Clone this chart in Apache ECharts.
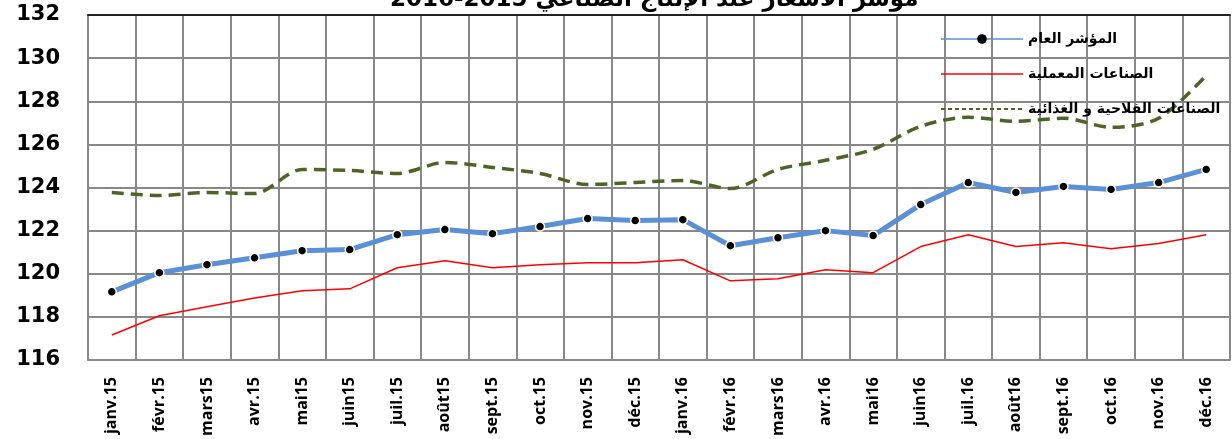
<!DOCTYPE html>
<html>
<head>
<meta charset="utf-8">
<script src="https://cdn.jsdelivr.net/npm/echarts@6/dist/echarts.min.js"></script>
<style>
  html, body { margin: 0; padding: 0; background: #fff; }
  #chart { width: 1232px; height: 439px; }
</style>
</head>
<body>
<div id="chart"></div>
<script>
const months = ['janv.15', 'févr.15', 'mars15', 'avr.15', 'mai15', 'juin15', 'juil.15', 'août15',
  'sept.15', 'oct.15', 'nov.15', 'déc.15', 'janv.16', 'févr.16', 'mars16', 'avr.16', 'mai16',
  'juin16', 'juil.16', 'août16', 'sept.16', 'oct.16', 'nov.16', 'déc.16']

// المؤشر العام
const general = [119.16, 120.05, 120.42, 120.74, 121.07, 121.12, 121.81, 122.05, 121.86, 122.19,
  122.56, 122.47, 122.51, 121.30, 121.67, 122.0, 121.77, 123.21, 124.23, 123.77, 124.05, 123.91,
  124.23, 124.84]
// الصناعات المعملية
const manufacturing = [117.16, 118.05, 118.47, 118.88, 119.21, 119.30, 120.28, 120.60, 120.28,
  120.42, 120.51, 120.51, 120.65, 119.67, 119.77, 120.19, 120.05, 121.26, 121.81, 121.26, 121.44,
  121.16, 121.40, 121.81]
// الصناعات الفلاحية و الغذائية
const agrifood = [123.77, 123.63, 123.77, 123.72, 124.84, 124.79, 124.65, 125.16, 124.93, 124.65,
  124.14, 124.23, 124.33, 123.95, 124.84, 125.26, 125.77, 126.84, 127.26, 127.07, 127.21, 126.79,
  127.21, 129.2]

const names = ['المؤشر العام', 'الصناعات المعملية', 'الصناعات الفلاحية و الغذائية']
const title = '2016-2015 مؤشر الأسعار عند الإنتاج الصناعي'

const arabicFont = 'DejaVu Sans'
const chart = echarts.init(document.getElementById('chart'))

chart.setOption({
  animation: false,
  title: {
    text: title,
    left: 385,
    top: -16,
    textStyle: { fontFamily: arabicFont, fontSize: 23, fontWeight: 'bold', color: '#000' }
  },
  legend: {
    orient: 'vertical',
    left: 935,
    top: 27,
    itemWidth: 82,
    itemHeight: 12,
    itemGap: 21,
    textStyle: { fontFamily: arabicFont, fontSize: 14, fontWeight: 'bold', color: '#000' },
    data: [
      { name: names[0], itemStyle: { color: '#000', borderWidth: 0 }, lineStyle: { width: 1.5 } },
      { name: names[1], itemStyle: { opacity: 0 }, lineStyle: { width: 1.5 } },
      { name: names[2], itemStyle: { opacity: 0 }, lineStyle: { width: 2, type: [4, 3] } }
    ]
  },
  grid: { left: 88, right: 2, top: 15, bottom: 79 },
  xAxis: [{
    type: 'category',
    data: months,
    boundaryGap: true,
    axisLine: { lineStyle: { color: '#888', width: 2 } },
    axisTick: { show: false },
    splitLine: { show: true, lineStyle: { color: '#888', width: 2 } },
    axisLabel: {
      rotate: 90,
      interval: 0,
      margin: 17,
      fontFamily: 'Open Sans',
      fontSize: 16,
      fontWeight: 'bold',
      color: '#000'
    }
  }, {
    type: 'category',
    data: months,
    position: 'top',
    axisLine: { lineStyle: { color: '#222', width: 2 } },
    axisTick: { show: false },
    axisLabel: { show: false }
  }],
  yAxis: {
    type: 'value',
    min: 116,
    max: 132,
    interval: 2,
    axisLine: { show: true, lineStyle: { color: '#888', width: 2 } },
    axisTick: { show: false },
    splitLine: { lineStyle: { color: '#888', width: 2 } },
    axisLabel: {
      margin: 28,
      fontFamily: 'DejaVu Sans',
      fontSize: 21,
      fontWeight: 'bold',
      color: '#000'
    }
  },
  series: [
    {
      name: names[0],
      type: 'line',
      data: general,
      symbol: 'circle',
      symbolSize: 9,
      itemStyle: { color: '#000', borderColor: '#fff', borderWidth: 1.5 },
      lineStyle: { color: '#5b8fd6', width: 5 },
      z: 4
    },
    {
      name: names[1],
      type: 'line',
      data: manufacturing,
      symbol: 'none',
      itemStyle: { color: '#ff0000' },
      lineStyle: { color: '#ff0000', width: 1.5 },
      z: 3
    },
    {
      name: names[2],
      type: 'line',
      data: agrifood,
      smooth: 0.3,
      symbol: 'none',
      itemStyle: { color: '#4f6228' },
      lineStyle: { color: '#4f6228', width: 3.5, type: [12, 7] },
      z: 3
    }
  ]
})
</script>
</body>
</html>
